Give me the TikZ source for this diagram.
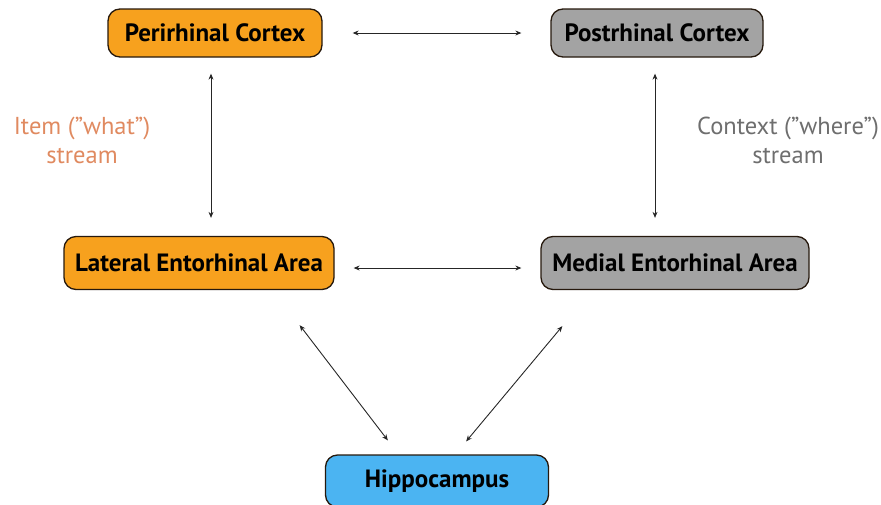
\documentclass[tikz,border=0pt]{standalone}
\usepackage{fontspec}
\setmainfont{PT Sans}
\usepackage{xcolor}
\usetikzlibrary{calc,arrows.meta}
\definecolor{orangebox}{HTML}{F7A11E}
\definecolor{graybox}{HTML}{A3A3A3}
\definecolor{bluebox}{HTML}{4BB4F2}
\definecolor{itemtext}{HTML}{E08A60}
\definecolor{contexttext}{HTML}{6E6E6E}

\begin{document}
\begin{tikzpicture}[x=1pt,y=-1pt,
    region/.style={draw=black!80!brown,line width=1.3pt,rounded corners=12pt,
      font=\bfseries\fontsize{25}{28}\selectfont,inner sep=0pt,minimum height=48pt},
    link/.style={{Stealth[length=6pt,width=5pt]}-{Stealth[length=6pt,width=5pt]},line width=0.9pt,black!85},
    stream/.style={font=\fontsize{24.5}{29}\selectfont,align=center}]
  \clip (0,0) rectangle (881,504);
  \node[region,fill=orangebox,minimum width=214pt] (peri) at (215,33) {Perirhinal Cortex};
  \node[region,fill=graybox,minimum width=212pt] (post) at (657,33) {Postrhinal Cortex};
  \node[region,fill=orangebox,minimum width=270pt,minimum height=53pt] (lea) at (199,263) {Lateral Entorhinal Area};
  \node[region,fill=graybox,minimum width=268pt,minimum height=53pt] (mea) at (675,263) {Medial Entorhinal Area};
  \node[region,fill=bluebox,minimum width=223pt,minimum height=52pt] (hippo) at (437,481) {Hippocampus};
  \node[stream,text=itemtext] (item) at (82,140) {Item (”what”)\\stream};
  \node[stream,text=contexttext] (context) at (788,140) {Context (”where”)\\stream};
  \draw[link,shorten <=30pt,shorten >=29pt] (peri) -- (post);
  \draw[link,shorten <=19pt,shorten >=19pt] ([yshift=-5pt]lea.east) -- ([yshift=-5pt]mea.west);
  \draw[link,shorten <=16pt,shorten >=18pt] ([xshift=-4pt]peri.south) -- ([xshift=12pt]lea.north);
  \draw[link,shorten <=16pt,shorten >=18pt] ([xshift=-2pt]post.south) -- ([xshift=-20pt]mea.north);
  \draw[link] ($(lea.south east)+(-35,35)$) -- ($(hippo.north west)+(63,-14)$);
  \draw[link] ($(mea.south west)+(22,36)$) -- ($(hippo.north east)+(-83,-13)$);
\end{tikzpicture}
\end{document}
